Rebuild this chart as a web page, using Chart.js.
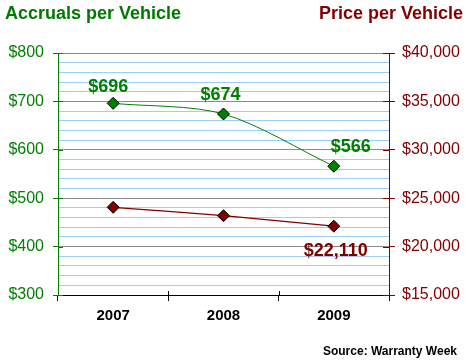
<!DOCTYPE html>
<html>
<head>
<meta charset="utf-8">
<script src="https://cdn.jsdelivr.net/npm/chart.js@4.4.0/dist/chart.umd.min.js"></script>
<style>
  body { margin: 0; background: #fff; }
  #wrap { position: relative; width: 467px; height: 362px; }
  .txt { position: absolute; font-family: 'Liberation Sans', Arial, sans-serif; font-weight: bold; white-space: nowrap; }
  #leftTitle { left: 5px; top: 3px; font-size: 18px; line-height: 20px; color: #007a00; }
  #rightTitle { right: 4px; top: 3px; font-size: 18px; line-height: 20px; color: #800000; }
  #source { right: 10px; top: 344px; font-size: 12px; line-height: 14px; color: #000; }
</style>
</head>
<body>
<div id="wrap">
  <canvas id="myChart" width="467" height="362"></canvas>
  <div class="txt" id="leftTitle">Accruals per Vehicle</div>
  <div class="txt" id="rightTitle">Price per Vehicle</div>
  <div class="txt" id="source">Source: Warranty Week</div>
</div>
<script>
'use strict';

// chart data
let years = ['2007', '2008', '2009'];
let accruals = [696, 674, 566];
let prices = [24060, 23190, 22110];
let accrualLabels = ['$696', '$674', '$566'];
let priceLabels = ['', '', '$22,110'];

let green = '#008000';
let darkRed = '#800000';
let fontName = "'Liberation Sans', Arial, sans-serif";

// where each value label sits relative to its point
let accrualOffsets = [[-5, -16], [-3, -19], [17, -19]];
let priceOffsets = [[0, 0], [0, 0], [2, 25]];

// draws the value labels next to the points
let valueLabels = {
  id: 'valueLabels',
  afterDatasetsDraw(chart) {
    let ctx = chart.ctx;
    let sets = [
      { meta: chart.getDatasetMeta(0), texts: accrualLabels, offsets: accrualOffsets, color: green },
      { meta: chart.getDatasetMeta(1), texts: priceLabels, offsets: priceOffsets, color: darkRed }
    ];
    ctx.save();
    ctx.font = 'bold 18px ' + fontName;
    ctx.textAlign = 'center';
    ctx.textBaseline = 'middle';
    sets.forEach(function (s) {
      s.meta.data.forEach(function (pt, i) {
        if (!s.texts[i]) return;
        ctx.fillStyle = s.color;
        ctx.fillText(s.texts[i], pt.x + s.offsets[i][0], pt.y + s.offsets[i][1]);
      });
    });
    ctx.restore();
  }
};

// tick marks that also poke into the plot, like the old Excel axes
let innerTicks = {
  id: 'innerTicks',
  afterDraw(chart) {
    let ctx = chart.ctx;
    let area = chart.chartArea;
    let sy = chart.scales.y;
    let sy1 = chart.scales.y1;
    let sx = chart.scales.x;
    ctx.save();
    ctx.lineWidth = 1;
    ctx.strokeStyle = green;
    sy.ticks.forEach(function (t) {
      if (t.value % 100 !== 0) return;
      let py = Math.round(sy.getPixelForValue(t.value)) + 0.5;
      ctx.beginPath();
      ctx.moveTo(area.left, py);
      ctx.lineTo(area.left + 5, py);
      ctx.stroke();
    });
    ctx.strokeStyle = darkRed;
    sy1.ticks.forEach(function (t) {
      let py = Math.round(sy1.getPixelForValue(t.value)) + 0.5;
      ctx.beginPath();
      ctx.moveTo(area.right - 6, py);
      ctx.lineTo(area.right, py);
      ctx.stroke();
    });
    ctx.strokeStyle = '#000';
    for (let i = 1; i < years.length; i++) {
      let px = Math.round((sx.getPixelForValue(i - 1) + sx.getPixelForValue(i)) / 2) + 0.5;
      ctx.beginPath();
      ctx.moveTo(px, area.bottom - 4);
      ctx.lineTo(px, area.bottom);
      ctx.stroke();
    }
    ctx.restore();
  }
};

let ctx = document.getElementById('myChart').getContext('2d');
new Chart(ctx, {
  type: 'line',
  data: {
    labels: years,
    datasets: [{
      label: 'Accruals per Vehicle',
      data: accruals,
      yAxisID: 'y',
      borderColor: green,
      borderWidth: 1,
      backgroundColor: green,
      pointStyle: 'rectRot',
      pointRadius: 6,
      pointBorderColor: '#000',
      pointBorderWidth: 1,
      tension: 0.3
    },
    {
      label: 'Price per Vehicle',
      data: prices,
      yAxisID: 'y1',
      borderColor: darkRed,
      borderWidth: 1.3,
      backgroundColor: darkRed,
      pointStyle: 'rectRot',
      pointRadius: 6,
      pointBorderColor: '#000',
      pointBorderWidth: 1,
      tension: 0.2
    }]
  },
  options: {
    responsive: false,
    animation: false,
    devicePixelRatio: 1,
    layout: { padding: { top: 53, left: 0, right: 0, bottom: 0 } },
    plugins: {
      legend: { display: false },
      tooltip: { enabled: false }
    },
    scales: {
      x: {
        offset: true,
        afterFit: function (s) { s.height = 67; },
        border: { color: '#000', width: 1 },
        grid: {
          offset: true,
          drawOnChartArea: false,
          tickColor: '#000',
          tickLength: 6
        },
        ticks: {
          color: '#000',
          padding: 6,
          font: { family: fontName, size: 15, weight: 'bold' }
        }
      },
      y: {
        position: 'left',
        min: 300,
        max: 800,
        afterFit: function (s) { s.width = 58; },
        border: { color: green, width: 1 },
        grid: {
          color: function (c) { return c.tick && c.tick.value % 100 === 0 ? '#8c8c8c' : '#9ccdfa'; },
          tickColor: function (c) { return c.tick && c.tick.value % 100 === 0 ? green : 'rgba(0,0,0,0)'; },
          tickLength: 5
        },
        ticks: {
          stepSize: 20,
          autoSkip: false,
          color: green,
          padding: 9,
          font: { family: fontName, size: 16 },
          callback: function (v) { return v % 100 === 0 ? '$' + v : ''; }
        }
      },
      y1: {
        position: 'right',
        min: 15000,
        max: 40000,
        afterFit: function (s) { s.width = 78; },
        border: { color: darkRed, width: 1 },
        grid: {
          drawOnChartArea: false,
          tickColor: darkRed,
          tickLength: 6
        },
        ticks: {
          stepSize: 5000,
          color: darkRed,
          padding: 7,
          font: { family: fontName, size: 16 },
          callback: function (v) { return '$' + v.toLocaleString('en-US'); }
        }
      }
    }
  },
  plugins: [valueLabels, innerTicks]
});
</script>
</body>
</html>
